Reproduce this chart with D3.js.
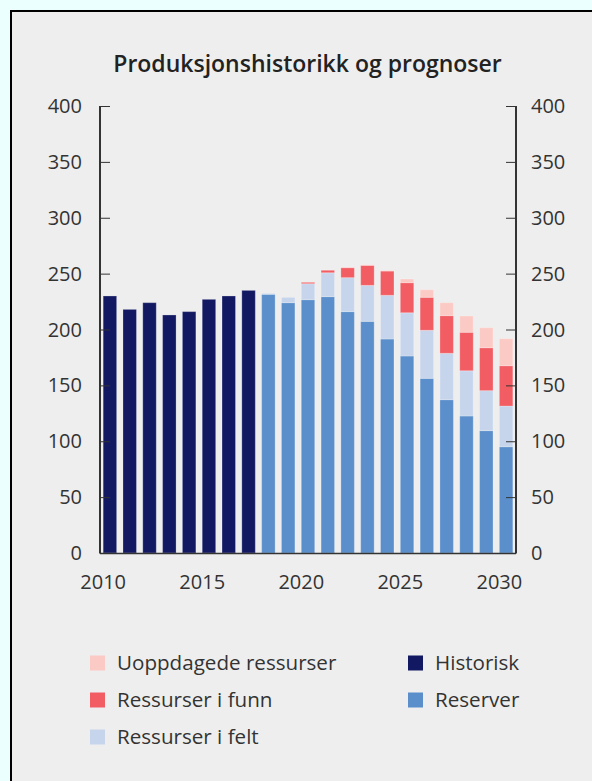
<!DOCTYPE html>
<html><head><meta charset="utf-8">
<script src="https://cdn.jsdelivr.net/npm/d3@7"></script>
<style>
html,body{margin:0;padding:0;background:#ebffff;}
svg{display:block;font-family:"Open Sans",sans-serif;}
</style></head><body>
<svg id="c" width="592" height="781"></svg>
<script>
const years = d3.range(2010, 2031);
const histYears = [2010,2011,2012,2013,2014,2015,2016,2017];
const historisk = [230, 218, 224, 213, 216, 227, 230, 235];
const progYears = [2018,2019,2020,2021,2022,2023,2024,2025,2026,2027,2028,2029,2030];
const reserver   = [231.5, 224, 226.7, 229.4, 216, 207.3, 191.5, 176.3, 156.3, 137.2, 122.6, 109.5, 95.1];
const iFelt      = [0.9, 4.8, 14.3, 21.4, 30.4, 32.2, 39.1, 38.7, 43, 41.5, 40.5, 35.8, 36.4];
const iFunn      = [0, 0, 1.2, 2.2, 8.9, 17.9, 21.7, 26.9, 29.5, 33.7, 34.4, 38.4, 36.1];
const uoppdagede = [0, 0, 0, 0, 0.5, 0.5, 0.5, 3.3, 6.8, 11.6, 14.6, 17.9, 24.2];
const yTicks = [0,50,100,150,200,250,300,350,400];
const xTicks = [2010,2015,2020,2025,2030];
const title = "Produksjonshistorikk og prognoser";
const seriesNames = ["Reserver","Ressurser i felt","Ressurser i funn","Uoppdagede ressurser"];
const colors = {"Historisk":"#131862","Reserver":"#5b8fcb","Ressurser i felt":"#c6d5ec","Ressurser i funn":"#f25c63","Uoppdagede ressurser":"#fccac5"};
const legendLeft = ["Uoppdagede ressurser","Ressurser i funn","Ressurser i felt"];
const legendRight = ["Historisk","Reserver"];

const svg = d3.select("#c");
svg.append("rect").attr("x",11).attr("y",11).attr("width",600).attr("height",800)
  .attr("fill","#eeeeee").attr("stroke","#000").attr("stroke-width",2);

svg.append("text").attr("x",307.5).attr("y",72).attr("text-anchor","middle")
  .attr("font-size",23).attr("font-weight",600).attr("fill","#222").text(title);

const L = 100, R = 516, T = 106, B = 553;
const x = d3.scaleBand().domain(years).range([L,R]).paddingInner(0.32).paddingOuter(0.16);
const y = d3.scaleLinear().domain([0,400]).range([B,T]);
const xl = d3.scaleLinear().domain([2010,2030]).range([x(2010), x(2030)]);

svg.append("g").selectAll("rect").data(histYears.map((yr,i)=>({yr,v:historisk[i]}))).join("rect")
  .attr("x",d=>x(d.yr)).attr("width",x.bandwidth())
  .attr("y",d=>y(d.v)).attr("height",d=>y(0)-y(d.v))
  .attr("fill",colors["Historisk"]).attr("stroke","rgba(255,255,255,0.25)").attr("stroke-width",1);

const rows = progYears.map((yr,i)=>({yr,"Reserver":reserver[i],"Ressurser i felt":iFelt[i],"Ressurser i funn":iFunn[i],"Uoppdagede ressurser":uoppdagede[i]}));
const stack = d3.stack().keys(seriesNames)(rows);
svg.append("g").selectAll("g").data(stack).join("g").attr("fill",d=>colors[d.key])
  .selectAll("rect").data(d=>d.filter(s=>s[1]-s[0]>0)).join("rect")
  .attr("x",d=>x(d.data.yr)).attr("width",x.bandwidth())
  .attr("y",d=>y(d[1])).attr("height",d=>y(d[0])-y(d[1]))
  .attr("stroke","rgba(255,255,255,0.25)").attr("stroke-width",1);

const axCol = "#333";
const gl = svg.append("g").attr("transform",`translate(${L},0)`)
  .call(d3.axisRight(y).tickValues(yTicks).tickSize(10).tickFormat(""));
gl.select(".domain").remove();
gl.selectAll("line").attr("stroke",axCol);
const gr = svg.append("g").attr("transform",`translate(${R},0)`)
  .call(d3.axisLeft(y).tickValues(yTicks).tickSize(10).tickFormat(""));
gr.select(".domain").remove();
gr.selectAll("line").attr("stroke",axCol);
svg.append("line").attr("x1",L).attr("x2",L).attr("y1",T).attr("y2",B+0.5).attr("stroke",axCol).attr("stroke-width",2);
svg.append("line").attr("x1",R).attr("x2",R).attr("y1",T).attr("y2",B+0.5).attr("stroke",axCol).attr("stroke-width",2);
svg.append("line").attr("x1",L).attr("x2",R).attr("y1",B+0.5).attr("y2",B+0.5).attr("stroke",axCol).attr("stroke-width",1.5);

svg.append("g").selectAll("text").data(yTicks).join("text")
  .attr("x",82).attr("y",d=>y(d)).attr("dy","0.35em").attr("text-anchor","end")
  .attr("font-size",20).attr("fill","#333").text(d=>d);
svg.append("g").selectAll("text").data(yTicks).join("text")
  .attr("x",531).attr("y",d=>y(d)).attr("dy","0.35em").attr("text-anchor","start")
  .attr("font-size",20).attr("fill","#333").text(d=>d);
svg.append("g").selectAll("text").data(xTicks).join("text")
  .attr("x",d=>xl(d)).attr("y",589).attr("text-anchor","middle")
  .attr("font-size",20).attr("fill","#333").text(d=>d);

const lg = svg.append("g");
legendLeft.forEach((k,i)=>{
  const cy = 663 + i*37;
  lg.append("rect").attr("x",90).attr("y",cy-7.5).attr("width",15).attr("height",15).attr("fill",colors[k]);
  lg.append("text").attr("x",117).attr("y",cy).attr("dy","0.35em").attr("font-size",20.6).attr("fill","#333").text(k);
});
legendRight.forEach((k,i)=>{
  const cy = 663 + i*37;
  lg.append("rect").attr("x",408).attr("y",cy-7.5).attr("width",15).attr("height",15).attr("fill",colors[k]);
  lg.append("text").attr("x",435).attr("y",cy).attr("dy","0.35em").attr("font-size",20.6).attr("fill","#333").text(k);
});
</script></body></html>
